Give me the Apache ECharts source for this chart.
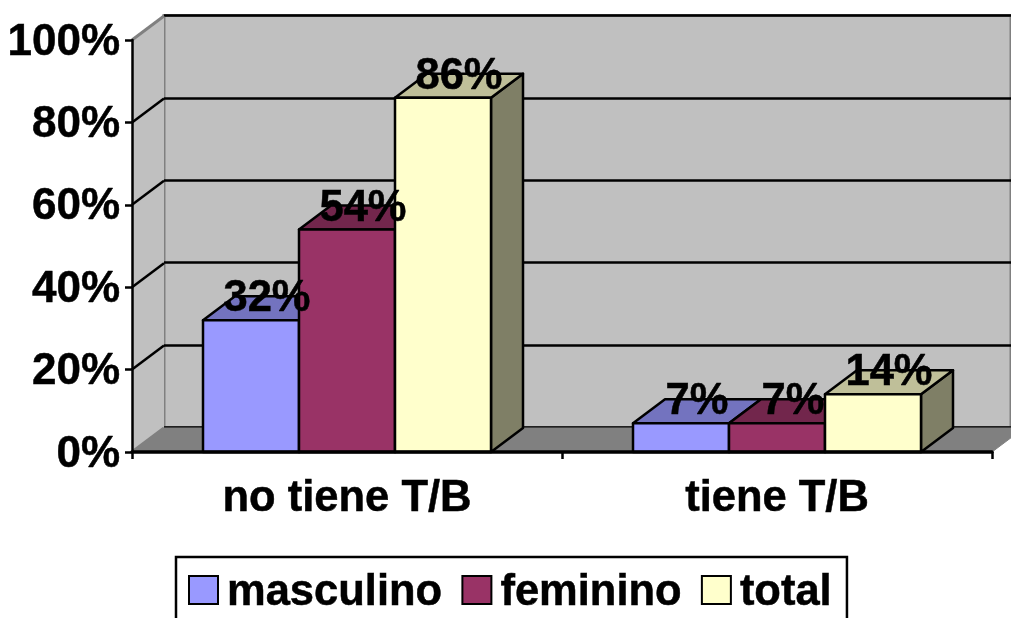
<!DOCTYPE html>
<html>
<head>
<meta charset="utf-8">
<style>html,body{margin:0;padding:0;background:#fff}#main{width:1011px;height:618px}</style>
<script src="https://cdn.jsdelivr.net/npm/echarts@6/dist/echarts.min.js"></script>
</head>
<body>
<div id="main"></div>
<script>
const categories = ['no tiene T/B', 'tiene T/B']
const masculino = [32, 7]
const feminino = [54, 7]
const total = [86, 14]
const yTicks = [0, 20, 40, 60, 80, 100]

const fontFamily = '"Liberation Sans", Arial, sans-serif'
const depthX = 32 // how far the back wall sits from the front plane
const depthY = 24
const barShare = 96 / 430 // one bar's width, as a share of the category band
const heavy = 0.5 // the reference's type is a bit heavier than plain bold

function pts(arr) {
  return { points: arr }
}

// left wall and floor, hung on the front axes
function renderWalls(params, api) {
  const band = api.size([1, 0])[0]
  const left = api.coord([0, 0])[0] - band / 2
  const right = left + band * categories.length
  const y0 = api.coord([0, 0])[1]
  const y100 = api.coord([0, 100])[1]
  const children = [
    { type: 'polygon', shape: pts([[left, y0], [left + depthX, y0 - depthY], [left + depthX, y100 - depthY], [left, y100]]), style: { fill: '#c0c0c0' } },
    { type: 'polygon', shape: pts([[left, y0], [left + depthX, y0 - depthY], [right + depthX, y0 - depthY], [right, y0]]), style: { fill: '#808080', stroke: '#808080', lineWidth: 1 } }
  ]
  yTicks.forEach(t => {
    const y = api.coord([0, t])[1]
    const edge = t === 0 || t === 100
    children.push({
      type: 'line',
      shape: { x1: left, y1: y, x2: left + depthX, y2: y - depthY },
      style: { stroke: edge ? '#808080' : '#000', lineWidth: edge ? 3 : 2.5 }
    })
  })
  return { type: 'group', children }
}

function barX(api, cat, idx) {
  const w = api.size([1, 0])[0] * barShare
  return api.coord([cat, 0])[0] + (idx - 1.5) * w
}

function labelEl(api, cat, idx, val) {
  const w = api.size([1, 0])[0] * barShare
  return {
    type: 'text',
    style: {
      text: val + '%',
      x: barX(api, cat, idx) + w / 2 + depthX / 2,
      y: api.coord([cat, val])[1] - 21,
      align: 'center',
      verticalAlign: 'middle',
      font: 'bold 43.5px ' + fontFamily,
      fill: '#000',
      stroke: '#000',
      lineWidth: heavy
    }
  }
}

function makeBars(idx, face, top, side) {
  return function (params, api) {
    const cat = api.value(0)
    const val = api.value(1)
    const w = api.size([1, 0])[0] * barShare
    const x = barX(api, cat, idx)
    const y0 = api.coord([cat, 0])[1]
    const y = api.coord([cat, val])[1]
    const line = { stroke: '#000', lineWidth: 2.5, lineJoin: 'round' }
    const children = [
      { type: 'polygon', shape: pts([[x + w, y0], [x + w + depthX, y0 - depthY], [x + w + depthX, y - depthY], [x + w, y]]), style: { fill: side, ...line } },
      { type: 'polygon', shape: pts([[x, y], [x + depthX, y - depthY], [x + w + depthX, y - depthY], [x + w, y]]), style: { fill: top, ...line } },
      { type: 'rect', shape: { x, y, width: w, height: y0 - y }, style: { fill: face, ...line } }
    ]
    // second cluster: labels stay under the next bar, as in the original
    if (cat === 1) children.push(labelEl(api, cat, idx, val))
    return { type: 'group', children }
  }
}

function barSeries(name, values, idx, face, top, side) {
  return {
    name,
    type: 'custom',
    z: 3 + idx,
    clip: false,
    itemStyle: { color: face, borderColor: '#000', borderWidth: 2.5 },
    data: values.map((v, i) => [i, v]),
    encode: { x: 0, y: 1 },
    renderItem: makeBars(idx, face, top, side)
  }
}

const chart = echarts.init(document.getElementById('main'), null, { renderer: 'canvas' })
chart.setOption({
  animation: false,
  backgroundColor: '#fff',
  textStyle: { fontFamily },
  grid: [
    { left: 132, right: 19, top: 40, bottom: 166 },
    { left: 132 + depthX, right: 19 - depthX, top: 39.5 - depthY, bottom: 166.5 + depthY, show: true, backgroundColor: '#c0c0c0', borderColor: '#808080', borderWidth: 3 }
  ],
  legend: {
    data: ['masculino', 'feminino', 'total'],
    left: 176,
    top: 557,
    padding: [8, 15, 30, 12],
    itemWidth: 29,
    itemHeight: 28,
    itemGap: 19,
    borderColor: '#000',
    borderWidth: 2.5,
    icon: 'rect',
    selectedMode: false,
    formatter: '{t|{name}}',
    textStyle: {
      rich: {
        t: { fontFamily, fontSize: 43.5, fontWeight: 'bold', color: '#000', lineHeight: 28, padding: [6, 0, 0, 4], textBorderColor: '#000', textBorderWidth: heavy }
      }
    }
  },
  xAxis: [
    {
      type: 'category',
      data: categories,
      gridIndex: 0,
      z: 10,
      axisLine: { lineStyle: { color: '#000', width: 3.5 } },
      axisTick: { show: true, length: 7, lineStyle: { color: '#000', width: 2.5 } },
      axisLabel: { color: '#000', fontFamily, fontSize: 43.5, fontWeight: 'bold', margin: 25, textBorderColor: '#000', textBorderWidth: heavy }
    },
    { type: 'category', data: categories, gridIndex: 1, show: false }
  ],
  yAxis: [
    {
      type: 'value',
      gridIndex: 0,
      min: 0,
      max: 100,
      interval: 20,
      z: 10,
      splitLine: { show: false },
      axisLine: { show: true, lineStyle: { color: '#000', width: 2.5 } },
      axisTick: { show: true, length: 7, lineStyle: { color: '#000', width: 2.5 } },
      axisLabel: {
        margin: 12,
        formatter: '{t|{value}%}',
        rich: {
          t: { fontFamily, fontSize: 44, fontWeight: 'bold', color: '#000', padding: [5, 0, 0, 0], textBorderColor: '#000', textBorderWidth: heavy }
        }
      }
    },
    {
      type: 'value',
      gridIndex: 1,
      min: 0,
      max: 100,
      interval: 20,
      axisLine: { show: false },
      axisTick: { show: false },
      axisLabel: { show: false },
      splitLine: { show: true, lineStyle: { color: '#000', width: 2.5 } }
    }
  ],
  series: [
    {
      type: 'custom',
      z: 1,
      clip: false,
      silent: true,
      data: [[0, 0]],
      encode: { x: 0, y: 1 },
      renderItem: renderWalls
    },
    barSeries('masculino', masculino, 0, '#9999ff', '#7373bf', '#5c5c99'),
    barSeries('feminino', feminino, 1, '#993366', '#72264c', '#5c1f3d'),
    barSeries('total', total, 2, '#ffffcc', '#bfbf99', '#7f7f66'),
    // first cluster labels sit on top of every bar
    {
      type: 'custom',
      z: 8,
      clip: false,
      silent: true,
      data: [[0, masculino[0], 0], [0, feminino[0], 1], [0, total[0], 2]],
      encode: { x: 0, y: 1 },
      renderItem: (params, api) => labelEl(api, api.value(0), api.value(2), api.value(1))
    }
  ]
})
</script>
</body>
</html>
